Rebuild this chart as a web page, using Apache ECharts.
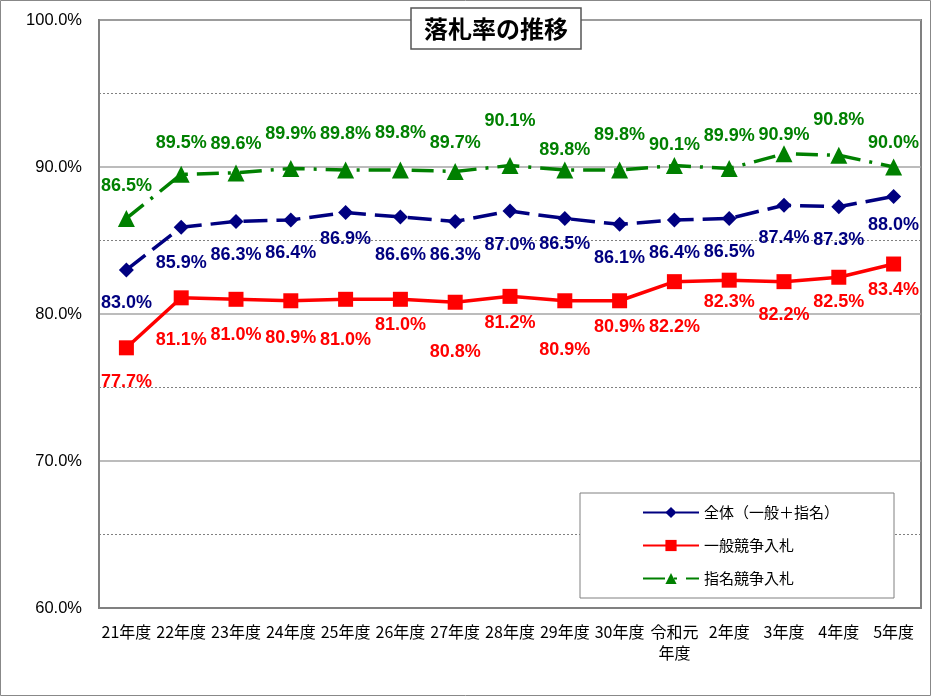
<!DOCTYPE html>
<html><head><meta charset="utf-8">
<script src="https://cdn.jsdelivr.net/npm/echarts@6/dist/echarts.min.js"></script>
<style>html,body{margin:0;padding:0;background:#fff}#c{width:932px;height:697px}</style>
</head><body><div id="c"></div>
<script>
const categories = ['21年度','22年度','23年度','24年度','25年度','26年度','27年度','28年度','29年度','30年度','令和元\n年度','2年度','3年度','4年度','5年度'];
const zentai = [83.0,85.9,86.3,86.4,86.9,86.6,86.3,87.0,86.5,86.1,86.4,86.5,87.4,87.3,88.0];
const ippan  = [77.7,81.1,81.0,80.9,81.0,81.0,80.8,81.2,80.9,80.9,82.2,82.3,82.2,82.5,83.4];
const shimei = [86.5,89.5,89.6,89.9,89.8,89.8,89.7,90.1,89.8,89.8,90.1,89.9,90.9,90.8,90.0];
const yTicks = [60,70,80,90,100];

// label vertical offsets (styling only)
const offZ = [33,36,34,33,26,38,34,34,26,34,33,34,33,33,29];
const offI = [34,42,36,37,41,26,50,27,49,26,45,22,33,25,26];
const offS = [-32,-31,-29,-34,-36,-37,-28,-44,-20,-35,-20,-32,-19,-35,-24];

const font = '"Noto Sans CJK JP","Noto Sans",sans-serif';
function mk(vals, offs){ return vals.map((v,i)=>({value:v,label:{offset:[0,offs[i]]}})); }
function lbl(color){ return {show:true,position:'inside',color:color,fontSize:18,fontWeight:'bold',fontFamily:'"Liberation Sans",Arial,sans-serif',formatter:p=>p.value.toFixed(1)+'%'}; }

const chart = echarts.init(document.getElementById('c'));
chart.setOption({
  animation:false,
  backgroundColor:'#fff',
  textStyle:{fontFamily:font},
  title:{text:'落札率の推移',left:411,top:8,backgroundColor:'#fff',borderColor:'#555',borderWidth:1.5,padding:[7,13],
    textStyle:{fontSize:24,fontWeight:'bold',color:'#000',fontFamily:font,lineHeight:27},z:10},
  graphic:[{type:'rect',shape:{x:0.5,y:0.5,width:930,height:695},style:{fill:'none',stroke:'#888',lineWidth:1},silent:true}],
  legend:{orient:'vertical',left:580,top:493,backgroundColor:'#fff',borderColor:'#808080',borderWidth:1,
    padding:[11,55,11,62],itemWidth:56,itemHeight:14,itemGap:16,
    textStyle:{fontSize:15,color:'#000',fontFamily:font,lineHeight:17},
    data:['全体（一般＋指名）','一般競争入札','指名競争入札']},
  grid:{left:99,right:11,top:20,bottom:89,show:true,borderColor:'#808080',borderWidth:2,containLabel:false},
  xAxis:{type:'category',data:categories,boundaryGap:true,
    axisLine:{lineStyle:{color:'#808080',width:2}},
    axisTick:{inside:true,length:5,lineStyle:{color:'#808080'}},
    axisLabel:{color:'#000',fontSize:16,fontFamily:font,interval:0,margin:13,lineHeight:21,verticalAlign:'top'}},
  yAxis:{type:'value',min:yTicks[0],max:yTicks[yTicks.length-1],interval:10,
    axisLine:{show:true,lineStyle:{color:'#808080',width:2}},
    axisTick:{show:false},
    axisLabel:{color:'#000',fontSize:16.5,fontFamily:'"Liberation Sans",Arial,sans-serif',margin:17,formatter:v=>v.toFixed(1)+'%'},
    splitLine:{lineStyle:{color:'#a6a6a6',width:1.5}},
    minorTick:{show:false,splitNumber:2},
    minorSplitLine:{show:true,lineStyle:{color:'#808080',width:1,type:[2,2]}}},
  series:[
    {name:'全体（一般＋指名）',type:'line',data:mk(zentai,offZ),symbol:'diamond',symbolSize:15,
      itemStyle:{color:'#000080'},lineStyle:{color:'#000080',width:3.5,type:[24,9]},label:lbl('#000080'),z:3},
    {name:'一般競争入札',type:'line',data:mk(ippan,offI),symbol:'rect',symbolSize:15,
      itemStyle:{color:'#ff0000'},lineStyle:{color:'#ff0000',width:3.5},label:lbl('#ff0000'),z:3},
    {name:'指名競争入札',type:'line',data:mk(shimei,offS),symbol:'triangle',symbolSize:17,
      itemStyle:{color:'#008000'},lineStyle:{color:'#008000',width:3.5,type:[22,9,3,9]},label:lbl('#008000'),z:3}
  ]
});
</script></body></html>
